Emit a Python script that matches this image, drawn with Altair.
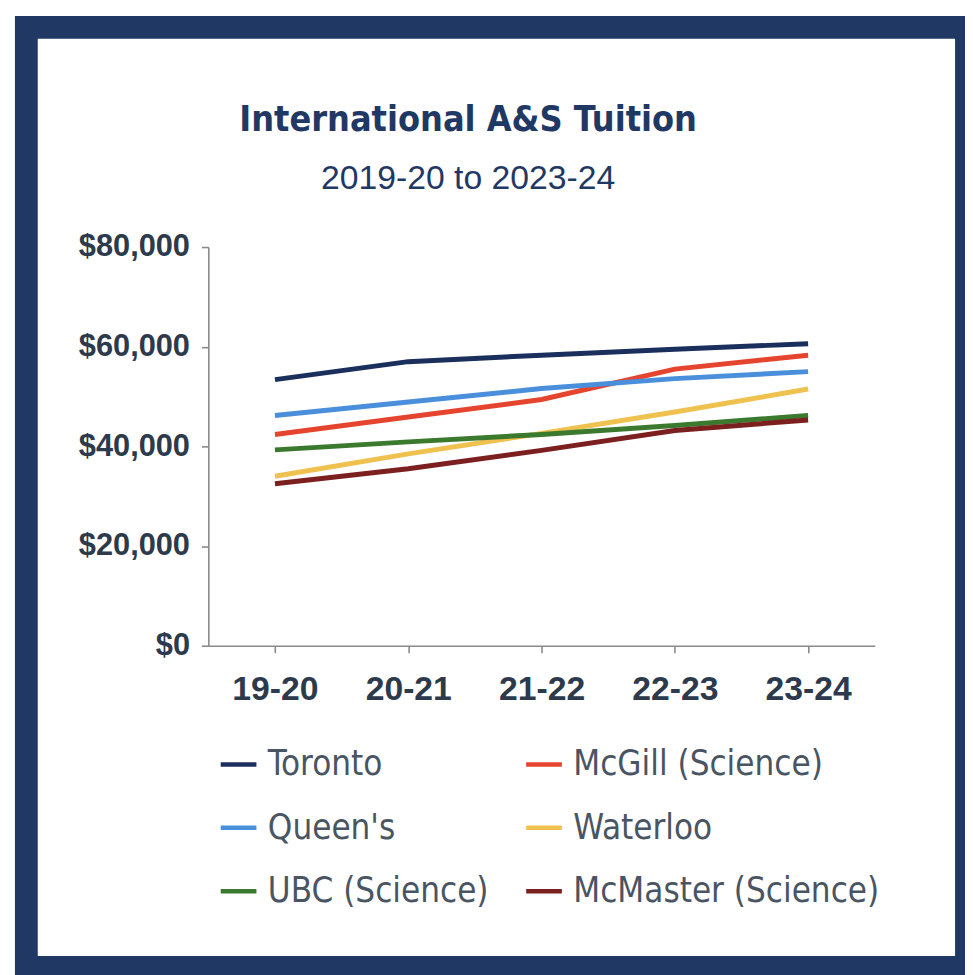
import altair as alt
import pandas as pd

years = ["19-20", "20-21", "21-22", "22-23", "23-24"]
schools = ["Toronto", "McGill (Science)", "Queen's", "Waterloo", "UBC (Science)", "McMaster (Science)"]
colors = ["#1B2F5C", "#E5452F", "#4A8FDB", "#EFC24F", "#3B7A2E", "#7B1F1F"]
# legend is filled column by column: left column first, then right column
legend_order = ["Toronto", "Queen's", "UBC (Science)", "McGill (Science)", "Waterloo", "McMaster (Science)"]

toronto = [53400, 57000, 58300, 59500, 60600]
mcgill = [42400, 45900, 49400, 55500, 58300]
queens = [46200, 48900, 51600, 53600, 55000]
waterloo = [34000, 38500, 42600, 46900, 51500]
ubc = [39300, 40900, 42400, 44200, 46200]
mcmaster = [32500, 35500, 39200, 43200, 45300]

series = [toronto, mcgill, queens, waterloo, ubc, mcmaster]
rows = []
for s, vals in zip(schools, series):
    for y, v in zip(years, vals):
        rows.append({"year": y, "school": s, "tuition": v})
df = pd.DataFrame(rows)

color_map = dict(zip(schools, colors))

NAVY = "#1F3864"
COND = "'DejaVu Sans Condensed', 'Liberation Sans', sans-serif"

frame = alt.Chart(alt.Data(values=[{"k": 1}])).mark_rect(
    fill="white", stroke=NAVY, strokeWidth=23
).encode(
    x=alt.value(-183.5), x2=alt.value(764.5),
    y=alt.value(-221.5), y2=alt.value(726.5),
)

lines = alt.Chart(df).mark_line(strokeWidth=5).encode(
    x=alt.X("year:O", sort=years, scale=alt.Scale(type="point", padding=0.5),
            axis=alt.Axis(title=None, labelAngle=0, labelFont="Liberation Sans",
                          labelFontWeight="bold", labelFontSize=34, labelColor="#2C3A4C",
                          labelPadding=20, tickSize=7, domainColor="#8A8A8A",
                          tickColor="#8A8A8A", domainWidth=1.6, tickWidth=1.6, zindex=1)),
    y=alt.Y("tuition:Q", scale=alt.Scale(domain=[0, 80000]),
            axis=alt.Axis(title=None, values=[0, 20000, 40000, 60000, 80000],
                          format="$,.0f", grid=False, labelFont="Liberation Sans",
                          labelFontWeight="bold", labelFontSize=31, labelColor="#2C3A4C",
                          labelPadding=12, tickSize=7, domainColor="#8A8A8A",
                          tickColor="#8A8A8A", domainWidth=1.6, tickWidth=1.6, zindex=1)),
    color=alt.Color("school:N", sort=legend_order,
                    scale=alt.Scale(domain=legend_order, range=[color_map[s] for s in legend_order]),
                    legend=alt.Legend(title=None, orient="none", legendX=10, legendY=501,
                                      columns=2, symbolType="stroke", symbolSize=1296,
                                      symbolStrokeWidth=4.5, labelFont=COND,
                                      labelFontSize=35, labelColor="#4A5563", labelOffset=9,
                                      rowPadding=25, columnPadding=28, labelLimit=400)),
)

chart = alt.layer(frame, lines).properties(
    width=672,
    height=402,
    autosize=alt.AutoSizeParams(type="none"),
    padding={"left": 202, "top": 237, "right": 91, "bottom": 328},
    title=alt.Title(
        "International A&S Tuition",
        subtitle="2019-20 to 2023-24",
        anchor="middle",
        dx=-74,
        offset=-182,
        font=COND,
        fontSize=36,
        fontWeight="bold",
        color=NAVY,
        subtitleFont="Liberation Sans",
        subtitleFontSize=34,
        subtitleColor=NAVY,
        subtitlePadding=23,
    ),
).configure_view(stroke=None)

chart.save("out.html", embed_options={"renderer": "svg", "actions": False})
